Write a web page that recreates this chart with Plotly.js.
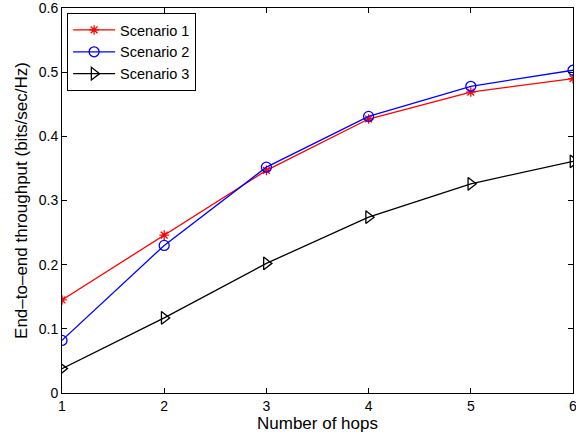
<!DOCTYPE html>
<html><head><meta charset="utf-8">
<script src="https://cdn.plot.ly/plotly-3.0.1.min.js"></script>
<style>body{margin:0;padding:0;background:#fff}#chart{width:576px;height:438px}</style>
</head><body><div id="chart"></div>
<script>
const hops = [1, 2, 3, 4, 5, 6];
const scenario1 = [0.145, 0.246, 0.347, 0.427, 0.469, 0.490];
const scenario2 = [0.082, 0.230, 0.352, 0.431, 0.478, 0.503];
const scenario3 = [0.038, 0.117, 0.202, 0.274, 0.326, 0.361];
const names = ['Scenario 1', 'Scenario 2', 'Scenario 3'];
const xTicks = [1, 2, 3, 4, 5, 6];
const yTicks = [0, 0.1, 0.2, 0.3, 0.4, 0.5, 0.6];

const fam = 'Arial, "Liberation Sans", sans-serif';
const tickFont = {family: fam, size: 14, color: '#000'};
const titleFont = {family: fam, size: 17, color: '#000'};
const legendFont = {family: fam, size: 14.5, color: '#000'};
const traces = [
  {x: hops, y: scenario1, name: names[0], mode: 'lines+markers', line: {color: '#ff0000', width: 1.3},
   marker: {symbol: 'asterisk-open', size: 8, color: '#ff0000', line: {color: '#ff0000', width: 1.3}}},
  {x: hops, y: scenario2, name: names[1], mode: 'lines+markers', line: {color: '#0000ff', width: 1.3},
   marker: {symbol: 'circle-open', size: 10, color: '#0000ff', line: {width: 1.3}}},
  {x: hops, y: scenario3, name: names[2], mode: 'lines+markers', line: {color: '#000000', width: 1.3},
   marker: {symbol: 'triangle-right-open', size: 11, color: '#000000', line: {width: 1.3}}}
];
const axisCommon = {showgrid: false, zeroline: false, showline: true, linecolor: '#000', linewidth: 1,
  mirror: 'ticks', ticks: 'inside', ticklen: 5, tickcolor: '#000', tickfont: tickFont, ticklabeloverflow: 'allow'};
const layout = {
  width: 576, height: 438,
  margin: {l: 62, r: 3, t: 8, b: 45},
  paper_bgcolor: '#fff', plot_bgcolor: '#fff',
  font: tickFont,
  showlegend: true,
  legend: {x: 0.01, y: 0.987, xanchor: 'left', yanchor: 'top', bgcolor: '#fff', bordercolor: '#000', borderwidth: 1,
    font: legendFont, tracegroupgap: 0, itemwidth: 42},
  xaxis: Object.assign({}, axisCommon, {range: [1, 6], tickvals: xTicks, ticktext: xTicks.map(String),
    title: {text: 'Number of hops', font: titleFont, standoff: 2}}),
  yaxis: Object.assign({}, axisCommon, {range: [0, 0.6], tickvals: yTicks, ticktext: yTicks.map(v => String(v)),
    title: {text: 'End\u2013to\u2013end throughput (bits/sec/Hz)', font: titleFont, standoff: 6}})
};
Plotly.newPlot('chart', traces, layout, {displayModeBar: false, staticPlot: true});
</script></body></html>
